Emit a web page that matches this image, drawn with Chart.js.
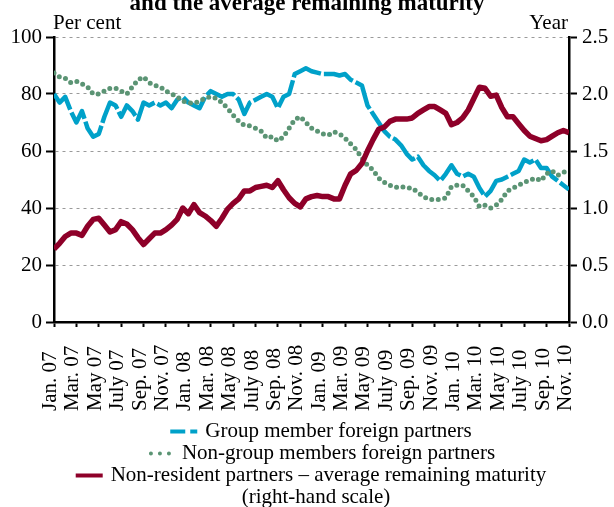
<!DOCTYPE html>
<html>
<head>
<meta charset="utf-8">
<script src="https://cdn.jsdelivr.net/npm/chart.js@4/dist/chart.umd.min.js"></script>
<style>
html,body{margin:0;padding:0;background:#fff;}
#wrap{width:614px;height:507px;position:relative;}
</style>
</head>
<body>
<div id="wrap"><canvas id="c" width="614" height="507"></canvas></div>
<script>
// ---- data ----
const titleText = 'and the average remaining maturity';
const leftAxisTitle = 'Per cent';
const rightAxisTitle = 'Year';
const legendNote = '(right-hand scale)';
const tickLabels = ['Jan. 07','Mar. 07','May 07','July 07','Sep. 07','Nov. 07',
  'Jan. 08','Mar. 08','May 08','July 08','Sep. 08','Nov. 08',
  'Jan. 09','Mar. 09','May 09','July 09','Sep. 09','Nov. 09',
  'Jan. 10','Mar. 10','May 10','July 10','Sep. 10','Nov. 10'];
// semi-monthly observations, in months since January 2007
const obsMonths = Array.from({length: 93}, (_, i) => i / 2);
// Group member foreign partners (per cent)
const groupMembers = [80,77,79,74,70,74,68,65,66,72,
  77,76,72,76,74,71,77,76,77,76,
  77,75,78,79,77,76,75,79,81,80,
  79,80,80,78,73,77,78,79,80,79,
  75,79,80,87,88,89,88,87.5,87,87,
  87,86.5,87,85,84,83,76,73,70,67,
  65,64,62,59,57,58,55,53,51.5,49.5,
  52,55,52,51,52,51,47,44,46,49.5,
  50,51,52,53,57,56,57,54,54,51,
  49.5,48,46.5];
// Non-group members foreign partners (per cent)
const nonGroupMembers = [87.4,86,85.5,84,84.5,83.5,82.5,80,80,81,
  82,82,81,80,82.5,85,86,84,83,82.5,
  81,80,79,77.5,77,76.7,77.5,78.5,79,78.5,
  77,75,72.6,70.5,69,68.8,68,67,64.6,65,
  63.5,65,68,71,72,70,68,67,66,65.5,
  66.7,66,64.5,62.5,60.5,57.5,55,53.3,50.5,49,
  48,47.2,47.5,47,47,45.5,44,43,43,43,
  43.5,47.5,48,48,46,44,40.5,41,40,41,
  43,46,47,48,49,49.8,50.5,49.5,52,53,
  51.5,52.5,53.5];
// Non-resident partners - average remaining maturity (years, right-hand scale)
const maturityYears = [0.64,0.69,0.75,0.78,0.78,0.76,0.84,0.90,0.91,0.85,
  0.79,0.81,0.88,0.86,0.81,0.74,0.68,0.73,0.78,0.78,
  0.81,0.85,0.90,1.00,0.95,1.03,0.96,0.93,0.89,0.84,
  0.91,0.99,1.04,1.08,1.15,1.15,1.18,1.19,1.20,1.18,
  1.24,1.16,1.09,1.04,1.01,1.08,1.10,1.11,1.10,1.10,
  1.08,1.08,1.20,1.30,1.33,1.39,1.50,1.60,1.69,1.71,
  1.76,1.78,1.78,1.78,1.79,1.83,1.86,1.89,1.89,1.86,
  1.83,1.73,1.75,1.79,1.86,1.96,2.06,2.05,1.98,1.99,
  1.88,1.80,1.80,1.74,1.68,1.63,1.61,1.59,1.60,1.63,
  1.66,1.68,1.66];
const seriesNames = ['Group member foreign partners',
  'Non-group members foreign partners',
  'Non-resident partners \u2013 average remaining maturity'];

// ---- chart ----
const FONT = '"Liberation Serif", "Times New Roman", serif';
const toPts = arr => arr.map((v, i) => ({x: obsMonths[i], y: v}));

const textPlugin = {
  id: 'textPlugin',
  afterDraw(chart) {
    const ctx = chart.ctx;
    ctx.save();
    ctx.fillStyle = '#000';
    // title (cut at top as in the reference)
    ctx.font = 'bold 23px ' + FONT;
    ctx.textAlign = 'center';
    ctx.textBaseline = 'alphabetic';
    ctx.fillText(titleText, 307, 10);
    // axis titles
    ctx.font = '21px ' + FONT;
    ctx.textAlign = 'left';
    ctx.fillText(leftAxisTitle, 53, 29);
    ctx.textAlign = 'right';
    ctx.fillText(rightAxisTitle, 568, 29);
    // x tick labels, rotated, start-aligned at bottom
    const xs = chart.scales.x;
    ctx.font = '21px ' + FONT;
    ctx.textAlign = 'left';
    ctx.textBaseline = 'alphabetic';
    xs.ticks.forEach(t => {
      const lbl = tickLabels[Math.round(t.value / 2)];
      if (lbl === undefined) return;
      const px = xs.getPixelForValue(t.value);
      ctx.save();
      ctx.translate(px, 411);
      ctx.rotate(-Math.PI / 2);
      ctx.fillText(lbl, 0, 2);
      ctx.restore();
    });
    // legend
    const ds = chart.data.datasets;
    const rows = [
      {text: ds[0].label, idx: 0, cx: 321, y: 431.5},
      {text: ds[1].label, idx: 1, cx: 321, y: 453.5},
      {text: ds[2].label, idx: 2, cx: 311, y: 475.5},
      {text: legendNote, idx: -1, cx: 316, y: 497.5}
    ];
    ctx.font = '21px ' + FONT;
    ctx.textBaseline = 'middle';
    rows.forEach(r => {
      const tw = ctx.measureText(r.text).width;
      const symW = r.idx === -1 ? 0 : 27;
      const gap = r.idx === -1 ? 0 : 8;
      const x0 = r.cx - (symW + gap + tw) / 2;
      if (r.idx >= 0) {
        const d = ds[r.idx];
        ctx.save();
        ctx.strokeStyle = d.borderColor;
        ctx.lineWidth = 4;
        if (r.idx === 0) {
          ctx.setLineDash([15, 5]); ctx.lineCap = 'butt';
          ctx.beginPath(); ctx.moveTo(x0, r.y); ctx.lineTo(x0 + 27, r.y); ctx.stroke();
        } else if (r.idx === 1) {
          ctx.setLineDash([0, 9]); ctx.lineCap = 'round';
          ctx.beginPath(); ctx.moveTo(x0 + 4, r.y); ctx.lineTo(x0 + 24, r.y); ctx.stroke();
        } else {
          ctx.setLineDash([]); ctx.lineCap = 'butt';
          ctx.beginPath(); ctx.moveTo(x0, r.y); ctx.lineTo(x0 + 27, r.y); ctx.stroke();
        }
        ctx.restore();
      }
      ctx.textAlign = 'left';
      ctx.fillStyle = '#000';
      ctx.fillText(r.text, x0 + symW + gap, r.y);
    });
    ctx.restore();
  }
};

new Chart(document.getElementById('c'), {
  type: 'line',
  data: {
    datasets: [
      {label: seriesNames[0], data: toPts(groupMembers), yAxisID: 'y',
       borderColor: '#00a1c9', borderWidth: 4.5, borderDash: [32, 3],
       borderJoinStyle: 'round', pointRadius: 0, tension: 0, fill: false, order: 2},
      {label: seriesNames[1], data: toPts(nonGroupMembers), yAxisID: 'y',
       borderColor: '#5b9474', borderWidth: 5, borderDash: [0, 6.5], borderCapStyle: 'round',
       pointRadius: 0, tension: 0, fill: false, order: 1},
      {label: seriesNames[2], data: toPts(maturityYears), yAxisID: 'y2',
       borderColor: '#8e0029', borderWidth: 5.5, borderJoinStyle: 'round',
       pointRadius: 0, tension: 0, fill: false, order: 0}
    ]
  },
  options: {
    responsive: false,
    animation: false,
    devicePixelRatio: 1,
    layout: {padding: {top: 37, bottom: 95, left: 0, right: 0}},
    plugins: {legend: {display: false}, title: {display: false}, tooltip: {enabled: false}},
    scales: {
      x: {
        type: 'linear', position: 'bottom', min: 0, max: 46,
        ticks: {stepSize: 2, display: false, autoSkip: false},
        grid: {drawOnChartArea: false, drawTicks: true, tickLength: 5, tickColor: '#000', tickWidth: 2},
        border: {color: '#000', width: 2.5},
        afterFit: s => { s.height = 90; }
      },
      y: {
        type: 'linear', position: 'left', min: 0, max: 100,
        ticks: {stepSize: 20, color: '#000', padding: 4, font: {family: FONT, size: 21}},
        grid: {color: '#9a9a9a', lineWidth: 1, drawTicks: true, tickLength: 8, tickColor: '#000', tickWidth: 2},
        border: {color: '#000', width: 2.5, dash: [3, 4]},
        afterFit: s => { s.width = 54; }
      },
      y2: {
        type: 'linear', position: 'right', min: 0, max: 2.5,
        ticks: {stepSize: 0.5, color: '#000', padding: 5, font: {family: FONT, size: 21},
                callback: v => v.toFixed(1)},
        grid: {drawOnChartArea: false, drawTicks: true, tickLength: 8, tickColor: '#000', tickWidth: 2},
        border: {color: '#000', width: 2.5},
        afterFit: s => { s.width = 45; }
      }
    }
  },
  plugins: [textPlugin]
});
</script>
</body>
</html>
